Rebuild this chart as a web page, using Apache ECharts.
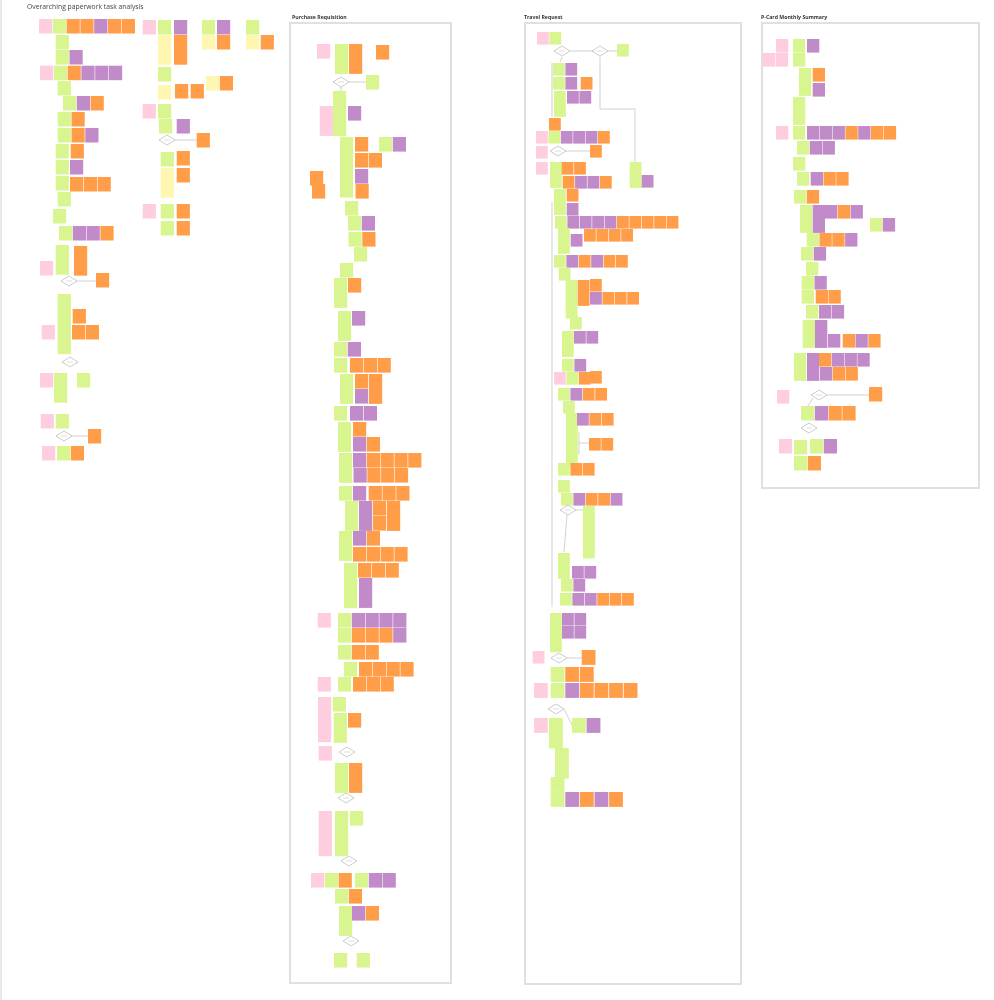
<!DOCTYPE html>
<html><head><meta charset="utf-8">
<script src="https://cdn.jsdelivr.net/npm/echarts/dist/echarts.min.js"></script>
<style>html,body{margin:0;padding:0;background:#fff}#c{width:994px;height:1000px}</style>
</head><body><div id="c"></div>
<script>
// ---- colour keys of sticky notes ----
const colorKeys = ['g', 'o', 'p', 'k', 'y'];
const colorFill = ['#d9f590', '#ff9d48', '#c18ac8', '#ffcde0', '#fff7b1'];

// ---- titles ----
const mainTitle = 'Overarching paperwork task analysis';
const sectionTitles = ['Purchase Requisition', 'Travel Request', 'P-Card Monthly Summary'];

// ---- notes: [boardX, boardY, colour codes in a row, stacked count] ----
const overarchingMain = [
  [39, 19, 'kgoopoo'],
  [55.7, 35, 'g'],
  [55.7, 50, 'gp'],
  [40, 65.7, 'kgoppp'],
  [57.7, 81, 'g'],
  [63, 96, 'gpo'],
  [57.7, 112, 'go'],
  [57.7, 128, 'gop'],
  [55.7, 144, 'g'], [70.7, 144, 'o'],
  [55.7, 160, 'g'], [70, 160, 'p'],
  [55.7, 176, 'g'], [70, 177, 'ooo'],
  [57.7, 192, 'g'],
  [53, 209, 'g'],
  [59, 226, 'gppo'],
  [55.7, 245, 'g', 2], [74, 246, 'o', 2],
  [40, 261, 'k'],
  [96, 273, 'o'],
  [57.7, 294, 'g', 4], [72.7, 309, 'o'],
  [41.7, 325, 'k'], [72, 325, 'oo'],
  [40, 373, 'k'], [54, 373, 'g', 2], [77, 373, 'g'],
  [40.7, 414, 'k'], [55.7, 414, 'g'],
  [88, 429, 'o'],
  [42, 446, 'k'], [57, 446, 'go']
];
const overarchingSide = [
  [142.7, 20, 'k'], [158, 20, 'g'], [174, 20, 'p'],
  [158, 35, 'y', 2], [174, 35, 'o', 2],
  [158, 67, 'g'],
  [158, 85, 'y'], [175, 84, 'o'], [190.7, 84, 'o'],
  [206, 76, 'yo'],
  [202, 20, 'g'], [217, 20, 'p'], [202, 35, 'y'], [217, 35, 'o'],
  [246, 20, 'g'], [246, 35, 'y'], [260.7, 35, 'o'],
  [142.7, 104, 'k'], [158, 104, 'g'],
  [159, 119, 'g'], [176.7, 119, 'p'],
  [196.7, 133, 'o'],
  [160.7, 152, 'g'], [176.7, 151, 'o'],
  [160.7, 168, 'y', 2], [176.7, 168, 'o'],
  [142.7, 204, 'k'], [160.7, 204, 'g'], [176.7, 204, 'o'],
  [160.7, 221, 'g'], [176.7, 221, 'o']
];
const purchaseNotes = [
  [317, 44, 'k'], [335, 44, 'g', 2], [349, 44, 'o', 2], [376, 45, 'o'],
  [366, 75, 'g'],
  [333, 91, 'g', 3], [319.7, 106, 'k', 2], [348, 106, 'p'],
  [340, 137, 'g', 4], [355, 137, 'o'], [379, 137, 'gp'],
  [355, 153, 'oo'],
  [355, 169, 'p'], [355.5, 184, 'o'],
  [310, 171, 'o'], [312, 184, 'o'],
  [345, 201, 'g'],
  [348, 216, 'gp'], [348.5, 232, 'go'],
  [354, 247, 'g'],
  [340, 263, 'g'],
  [334, 278, 'g', 2], [348, 278, 'o'],
  [338, 311, 'g', 2], [352, 311, 'p'],
  [334, 342, 'gp'],
  [334, 358, 'g'], [350, 358, 'ooo'],
  [340, 374, 'g', 2], [355, 374, 'o'], [369, 374, 'o', 2], [355, 389, 'p'],
  [334, 406, 'g'], [350, 406, 'pp'],
  [338, 422, 'g', 2], [353, 422, 'o'], [353, 437, 'po'],
  [339, 453, 'g', 2], [353, 453, 'poooo'],
  [353.5, 468, 'pooo'],
  [339, 486, 'g'], [353, 486, 'p'], [368.7, 486, 'ooo'],
  [345, 501, 'g', 2], [359, 501, 'p', 2], [373, 501, 'o'], [387, 501, 'o', 2], [373, 516, 'o'],
  [339, 531, 'g', 2], [353, 531, 'po'], [353, 547, 'oooo'],
  [344, 563, 'g', 3], [358, 563, 'ooo'], [359, 578, 'p', 2],
  [317.7, 613, 'k'], [338, 613, 'gpppp'],
  [338, 628, 'gooop'],
  [338, 645, 'goo'],
  [344, 662, 'g'], [359, 662, 'oooo'],
  [317.7, 677, 'k'], [338, 677, 'g'], [353, 677, 'ooo'],
  [318, 697, 'k', 3], [318.7, 746, 'k'], [332.7, 697, 'g'], [333.7, 713, 'g', 2], [348, 713, 'o'],
  [335, 763, 'g', 2], [349, 763, 'o', 2],
  [318.7, 811, 'k', 3], [335, 811, 'g', 3], [350, 811, 'g'],
  [311, 873, 'kgo'], [355, 873, 'gpp'],
  [335, 889, 'go'],
  [339, 906, 'g', 2], [352, 906, 'po'],
  [334, 953, 'g'], [356.7, 953, 'g']
];
const travelNotes = [
  [537, 32, 'kg'], [617, 44, 'g'],
  [553, 63, 'gp'],
  [553, 77, 'gp'], [580.7, 77, 'o'],
  [554, 91, 'g', 2], [567, 91, 'pp'],
  [549, 118, 'o'],
  [536, 131, 'kgpppo'],
  [536, 146, 'k'], [590, 145, 'o'],
  [536, 162, 'k'], [550, 162, 'g', 2], [561.7, 162, 'oo'],
  [562.7, 176, 'oppo'],
  [629.7, 162, 'g', 2], [641.7, 175, 'p'],
  [554, 189, 'g', 2], [566.7, 189, 'o'], [566.7, 203, 'p'],
  [555, 216, 'gppppooooo'],
  [558, 228, 'g', 2], [570.7, 234, 'p'], [584, 229, 'oooo'],
  [554, 255, 'gpopoo'],
  [558.7, 268, 'g'],
  [565.7, 280, 'g', 2], [577.7, 280, 'o', 2], [590, 279, 'o'], [590, 292, 'pooo'],
  [565.7, 306, 'g'],
  [570, 317, 'g'],
  [562, 331, 'g', 2], [574, 331, 'pp'],
  [562, 359, 'gp'],
  [554, 372, 'kgo'], [590, 371, 'o'],
  [558, 388, 'gpoo'],
  [563, 401, 'g'],
  [566, 413, 'g', 4], [577, 413, 'poo'],
  [589, 438, 'oo'],
  [558, 463, 'goo'],
  [558, 480, 'g'],
  [561, 493, 'gpoop'],
  [583, 506, 'g', 4],
  [558, 553, 'g', 2], [572, 566, 'pp'],
  [561, 579, 'gp'],
  [560, 593, 'gppooo'],
  [550, 613, 'g', 3], [562, 613, 'pp'], [562, 626, 'pp'],
  [532.7, 651, 'k']
];
const travelNotesLower = [
  [581.7, 650, 'o'],
  [550.7, 667, 'goo'],
  [534, 683, 'k'], [550.7, 683, 'gpoooo'],
  [534, 718, 'k'], [549, 718, 'g', 2], [572, 718, 'gp'],
  [555, 748, 'g', 2],
  [550.7, 777, 'g'],
  [550.7, 792, 'gpopo']
];
const pcardNotes = [
  [776, 39, 'k'], [793, 39, 'g'], [807, 39, 'p'],
  [763, 53, 'kk'], [793, 53, 'g'],
  [799, 68, 'g', 2], [812.7, 68, 'o'], [812.7, 83, 'p'],
  [793, 97, 'g', 2],
  [776, 126, 'k'], [793, 126, 'g'], [807, 126, 'pppopoo'],
  [797, 141, 'gpp'],
  [793, 157, 'g'],
  [797, 172, 'g'], [810.7, 172, 'poo'],
  [794, 190, 'go'],
  [800, 205, 'g', 2], [812.7, 205, 'p', 2], [825, 205, 'pop'],
  [870, 218, 'gp'],
  [806.7, 233, 'goop'],
  [801, 247, 'gp'],
  [806, 262, 'g'],
  [801.7, 276, 'gp'],
  [801.7, 290, 'g'], [815.7, 290, 'oo'],
  [806, 305, 'g'], [819, 305, 'pp'],
  [802.7, 320, 'g', 2], [815, 320, 'p', 2], [828, 334, 'p'], [842.7, 334, 'opo'],
  [794, 353, 'g', 2], [807, 353, 'p', 2], [819, 353, 'oppp'],
  [820, 367, 'poo'],
  [777, 390, 'k']
];
const pcardNotesLower = [
  [869, 387, 'o'],
  [801, 406, 'gpoo'],
  [779, 439, 'k'], [794, 440, 'g'], [810, 439, 'gp'],
  [794, 456, 'go']
];

// ---- decision diamonds [centreX, centreY] ----
const decisions = [
  [69, 281], [70, 362], [167, 140], [64, 436],
  [341, 82], [347, 752], [346, 798], [349, 861], [351, 941],
  [562, 51], [600, 51], [558, 151], [568, 510], [559, 658], [556, 709],
  [819, 395], [809, 428]
];
// ---- connector polylines ----
const connectors = [
  [[77, 281], [96, 281]], [[175, 140], [196.7, 140]], [[72, 436], [88, 436]],
  [[349, 82], [366, 82]], [[341, 87], [341, 91]],
  [[570, 51], [593, 51]], [[608, 51], [617, 51]], [[600, 57], [600, 109], [635, 109], [635, 162]],
  [[562, 57], [560, 62]],
  [[566, 151], [590, 151]], [[552, 63], [552, 117]], [[552, 202], [552, 607]],
  [[579, 432], [579, 455]], [[579, 443], [589, 443]],
  [[576, 510], [583, 510]], [[567, 515], [564, 552]],
  [[567, 658], [581.7, 658]], [[564, 709], [572, 725]],
  [[827, 395], [869, 395]], [[813, 398], [808, 406]]
];
// ---- section frames [x1, y1, x2, y2] ----
const frames = [[290, 23, 451, 983], [525, 23, 741, 984], [762, 23, 979, 488]];

// ---- build ----
const layouts = [
  [overarchingMain, {step: 13.8, w: 13.2, h: 15.2}],
  [overarchingSide, {step: 13.8, w: 13.2, h: 15.2}],
  [purchaseNotes, {step: 13.8, w: 13.2, h: 15.3}],
  [travelNotes, {step: 12.4, w: 11.8, h: 13.3}],
  [travelNotesLower, {step: 14.6, w: 13.8, h: 15.6}],
  [pcardNotes, {step: 12.8, w: 12.3, h: 14.3}],
  [pcardNotesLower, {step: 13.8, w: 13.2, h: 15.2}]
];
const noteData = [];
layouts.forEach(([rows, st]) => {
  rows.forEach(r => {
    const x = r[0], y = r[1], codes = r[2], n = r[3] || 1;
    for (let i = 0; i < codes.length; i++) {
      const c = codes[i];
      if (c === '.') continue;
      noteData.push([x + i * st.step, y, st.w, n * st.h - 0.7, colorKeys.indexOf(c)]);
    }
  });
});

const chart = echarts.init(document.getElementById('c'), null, {renderer: 'canvas'});
chart.setOption({
  animation: false,
  backgroundColor: '#ffffff',
  grid: {left: 0, right: 0, top: 0, bottom: 0},
  xAxis: {type: 'value', min: 0, max: 994, show: false},
  yAxis: {type: 'value', min: 0, max: 1000, inverse: true, show: false},
  graphic: [
    {type: 'line', shape: {x1: 1, y1: 0, x2: 1, y2: 1000}, style: {stroke: '#e2e2e2', lineWidth: 1.5}},
    {type: 'text', left: 27, top: 3.5, style: {text: mainTitle, fontSize: 6.8, fontFamily: 'Open Sans', fill: '#444'}},
    {type: 'text', left: 292, top: 15, style: {text: sectionTitles[0], fontSize: 5.2, fontWeight: 'bold', fontFamily: 'Open Sans', fill: '#333'}},
    {type: 'text', left: 524, top: 15, style: {text: sectionTitles[1], fontSize: 5.2, fontWeight: 'bold', fontFamily: 'Open Sans', fill: '#333'}},
    {type: 'text', left: 761, top: 15, style: {text: sectionTitles[2], fontSize: 5.2, fontWeight: 'bold', fontFamily: 'Open Sans', fill: '#333'}}
  ],
  series: [
    {
      type: 'custom', z: 1, silent: true, clip: false,
      data: frames,
      encode: {x: [0, 2], y: [1, 3]},
      renderItem: (params, api) => {
        const a = api.coord([api.value(0), api.value(1)]);
        const b = api.coord([api.value(2), api.value(3)]);
        return {type: 'rect', shape: {x: a[0], y: a[1], width: b[0] - a[0], height: b[1] - a[1]},
          style: {fill: '#fff', stroke: '#e0e0e0', lineWidth: 2}};
      }
    },
    {
      type: 'custom', z: 2, silent: true, clip: false,
      data: connectors.map((c, i) => [c[0][0], c[0][1], i]),
      encode: {x: 0, y: 1},
      renderItem: (params, api) => {
        const pts = connectors[api.value(2)].map(p => api.coord(p));
        return {type: 'polyline', shape: {points: pts}, style: {stroke: '#bdbdbd', lineWidth: 0.7, fill: null}};
      }
    },
    {
      type: 'custom', z: 3, silent: true, clip: false,
      data: noteData,
      encode: {x: 0, y: 1},
      renderItem: (params, api) => {
        const p = api.coord([api.value(0), api.value(1)]);
        const s = api.size([api.value(2), api.value(3)]);
        return {type: 'rect', shape: {x: p[0], y: p[1], width: s[0], height: s[1]},
          style: {fill: colorFill[api.value(4)]}};
      }
    },
    {
      type: 'custom', z: 4, silent: true, clip: false,
      data: decisions,
      encode: {x: 0, y: 1},
      renderItem: (params, api) => {
        const c = api.coord([api.value(0), api.value(1)]);
        return {type: 'group', children: [
          {type: 'polygon', shape: {points: [[c[0] - 8, c[1]], [c[0], c[1] - 5], [c[0] + 8, c[1]], [c[0], c[1] + 5]]},
            style: {fill: '#fff', stroke: '#a8a8a8', lineWidth: 0.6}},
          {type: 'line', shape: {x1: c[0] - 3, y1: c[1], x2: c[0] + 3, y2: c[1]}, style: {stroke: '#c8c8c8', lineWidth: 0.6}}
        ]};
      }
    }
  ]
});
</script>
</body></html>
